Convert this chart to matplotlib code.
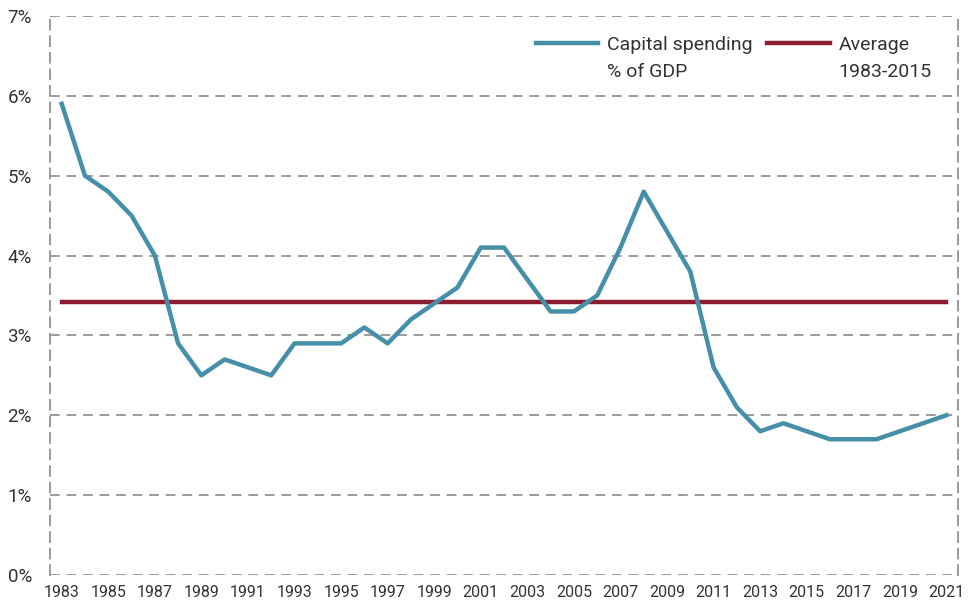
import numpy as np
import matplotlib.pyplot as plt

plt.rcParams['font.family'] = ['Roboto', 'DejaVu Sans']

# capital spending as % of GDP
years = list(range(1983, 2022))
spending = [5.9, 5.0, 4.8, 4.5, 4.0, 2.9, 2.5, 2.7, 2.6, 2.5,
            2.9, 2.9, 2.9, 3.1, 2.9, 3.2, 3.4, 3.6, 4.1, 4.1,
            3.7, 3.3, 3.3, 3.5, 4.1, 4.8, 4.3, 3.8, 2.6, 2.1,
            1.8, 1.9, 1.8, 1.7, 1.7, 1.7, 1.8, 1.9, 2.0]
average = 3.42  # 1983-2015 average
avg_line = [average] * len(years)

xtick_years = list(range(1983, 2022, 2))
yticks = [0, 1, 2, 3, 4, 5, 6, 7]

fig = plt.figure(figsize=(9.68, 6.07), dpi=100)
ax = fig.add_axes([0.0517, 0.0527, 0.938, 0.921])

grid_col = '#9b9b9b'
for y in yticks:
    ax.axhline(y, color=grid_col, lw=1.4, ls=(0, (5, 3.5)), zorder=1)

ax.plot(years, spending, color='#4590a8', lw=3.2,
        label='Capital spending\n% of GDP', zorder=3)
ax.plot(years, avg_line, color='#8c1c30', lw=3.2,
        label='Average\n1983-2015', zorder=2)

ax.set_xlim(1982.5, 2021.5)
ax.set_ylim(0, 7)
ax.set_yticks(yticks)
ax.set_yticklabels([f'{v}%' for v in yticks], fontsize=13.5, color='#333333')
ax.set_xticks(xtick_years)
ax.set_xticklabels([str(y) for y in xtick_years], fontsize=11.5, color='#333333')
ax.tick_params(length=0)
ax.tick_params(axis='y', pad=13)
ax.tick_params(axis='x', pad=7)

for side in ['left', 'right', 'top', 'bottom']:
    ax.spines[side].set_color(grid_col)
    ax.spines[side].set_linewidth(1.4)
    ax.spines[side].set_linestyle((0, (5, 3.5)))
ax.spines['bottom'].set_visible(False)
ax.spines['top'].set_visible(False)

leg = ax.legend(loc='upper right', ncol=2, frameon=False, fontsize=14,
                handlelength=3.2, handletextpad=0.45, columnspacing=0.75,
                bbox_to_anchor=(0.99, 0.995), labelcolor='#333333')
for t in leg.get_texts():
    t.set_linespacing(1.65)
# put the handle next to the first line of each label
for col in leg._legend_handle_box.get_children():
    for item in col.get_children():
        item.align = 'top'

fig.savefig('out.png', dpi=100)
